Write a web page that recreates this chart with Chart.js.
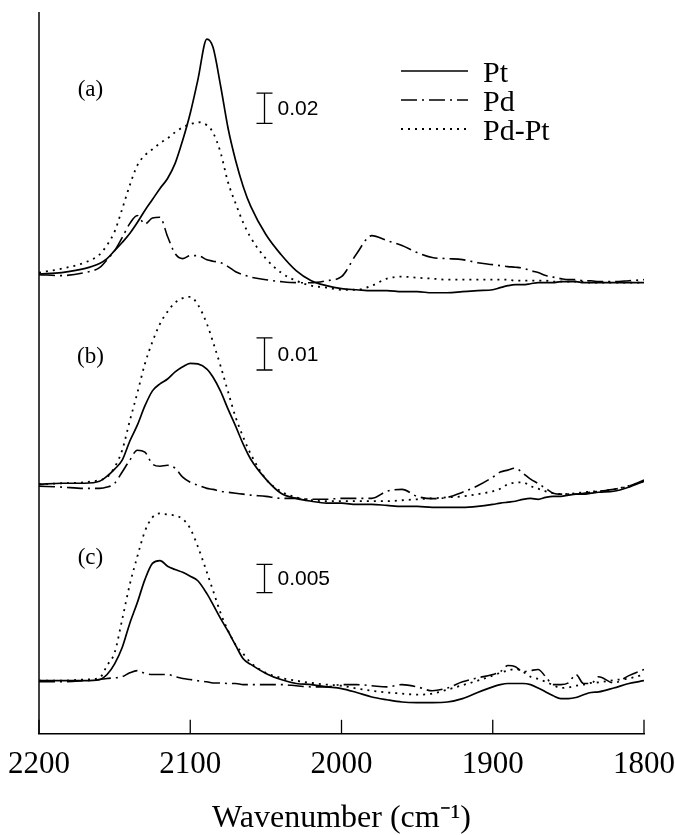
<!DOCTYPE html>
<html>
<head>
<meta charset="utf-8">
<title>CO adsorption spectra</title>
<script src="https://cdn.jsdelivr.net/npm/chart.js@4.4.1/dist/chart.umd.min.js"></script>
<style>
    html, body { margin: 0; padding: 0; background: #fff; }
    #wrap { width: 675px; height: 835px; }
</style>
</head>
<body>
<div id="wrap"><canvas id="chart"></canvas></div>
<script>
// wavenumber grid shared by all spectra (cm-1), finer around the carbonyl bands
const wavenumbers = [2200, 2185, 2170, 2160, 2155, 2150, 2145, 2140, 2135, 2130,
    2125, 2120, 2115, 2110, 2105, 2100, 2095, 2089, 2085, 2080,
    2075, 2070, 2065, 2060, 2050, 2040, 2030, 2020, 2010, 2000,
    1990, 1980, 1970, 1960, 1950, 1940, 1930, 1920, 1910, 1900,
    1895, 1890, 1885, 1880, 1875, 1870, 1865, 1860, 1855, 1850,
    1845, 1840, 1835, 1830, 1820, 1810, 1800];

// (a) absorbance
const ptA = [-0.0003, 0.0007, 0.0033, 0.0067, 0.010, 0.0153, 0.0207, 0.0267, 0.034, 0.042,
    0.0493, 0.0567, 0.0633, 0.0733, 0.0887, 0.1067, 0.1287, 0.156, 0.1507, 0.1253,
    0.0967, 0.0753, 0.058, 0.0447, 0.026, 0.0127, 0.002, -0.0047, -0.008, -0.01,
    -0.0107, -0.0113, -0.0113, -0.012, -0.012, -0.0127, -0.0127, -0.012, -0.0113, -0.0107,
    -0.0093, -0.008, -0.0073, -0.0073, -0.0067, -0.006, -0.006, -0.006, -0.0053, -0.0053,
    -0.0053, -0.006, -0.006, -0.006, -0.006, -0.006, -0.006];
const pdA = [-0.0007, -0.0013, 0.0007, 0.004, 0.0093, 0.0153, 0.024, 0.0333, 0.0387, 0.033,
    0.037, 0.0375, 0.0247, 0.0133, 0.01, 0.012, 0.012, 0.0093, 0.0083, 0.0073,
    0.0047, 0.0013, -0.0007, -0.0023, -0.004, -0.0053, -0.006, -0.006, -0.0047, -0.002,
    0.0133, 0.0253, 0.022, 0.0187, 0.014, 0.0107, 0.01, 0.0093, 0.0073, 0.006,
    0.0053, 0.0047, 0.0043, 0.0037, 0.002, 0.0007, -0.0013, -0.0023, -0.0033, -0.004,
    -0.004, -0.0047, -0.0047, -0.0053, -0.0053, -0.0047, -0.004];
const pdptA = [0.0007, 0.0033, 0.0073, 0.0127, 0.019, 0.028, 0.043, 0.0587, 0.072, 0.0787,
    0.0827, 0.0867, 0.09, 0.094, 0.0973, 0.0993, 0.1007, 0.0987, 0.094, 0.0807,
    0.0607, 0.0467, 0.034, 0.024, 0.01, 0.0007, -0.0047, -0.008, -0.0093, -0.0107,
    -0.0107, -0.008, -0.0033, -0.002, -0.0027, -0.0033, -0.004, -0.004, -0.004, -0.004,
    -0.004, -0.004, -0.0047, -0.0047, -0.0047, -0.0047, -0.0047, -0.0053, -0.0053, -0.0053,
    -0.0053, -0.0053, -0.006, -0.006, -0.006, -0.006, -0.006];

// (b) absorbance
const ptB = [0, 0.0003, 0.0003, 0.0009, 0.0025, 0.0047, 0.0075, 0.0134, 0.0184, 0.0244,
    0.0291, 0.0313, 0.0328, 0.035, 0.0366, 0.0377, 0.0375, 0.0359, 0.0334, 0.029,
    0.0234, 0.0181, 0.0125, 0.0078, 0.0016, -0.0028, -0.0044, -0.0053, -0.0059, -0.0059,
    -0.0063, -0.0063, -0.0066, -0.0069, -0.0069, -0.0072, -0.0072, -0.0072, -0.0069, -0.0063,
    -0.0059, -0.0056, -0.0053, -0.0047, -0.0044, -0.0047, -0.0041, -0.0038, -0.0038, -0.0034,
    -0.0031, -0.0031, -0.0028, -0.0025, -0.0022, -0.0009, 0.0009];
const pdB = [-0.0006, -0.0009, -0.0013, -0.0013, -0.0009, 0.0003, 0.0038, 0.0075, 0.0106, 0.01,
    0.0063, 0.0056, 0.0059, 0.005, 0.0022, 0.0006, -0.0003, -0.0013, -0.0016, -0.0022,
    -0.0025, -0.0028, -0.0031, -0.0034, -0.0038, -0.0044, -0.0044, -0.0047, -0.0047, -0.0044,
    -0.0044, -0.0044, -0.0022, -0.0016, -0.0038, -0.0045, -0.0041, -0.0025, -0.0005, 0.0022,
    0.0038, 0.0044, 0.005, 0.0034, 0.0016, 0.0002, -0.0013, -0.0028, -0.0031, -0.0031,
    -0.0031, -0.0028, -0.0025, -0.0022, -0.0016, -0.0006, 0.0013];
const pdptB = [0, 0.0003, 0.0006, 0.0013, 0.0022, 0.0053, 0.0106, 0.0197, 0.0284, 0.0375,
    0.0444, 0.05, 0.0538, 0.0566, 0.058, 0.0584, 0.056, 0.05, 0.0444, 0.0369,
    0.0288, 0.0209, 0.0147, 0.0094, 0.0016, -0.0022, -0.0041, -0.005, -0.0053, -0.0053,
    -0.0053, -0.0053, -0.0053, -0.005, -0.0047, -0.0044, -0.0041, -0.0038, -0.0031, -0.0022,
    -0.0014, 0, 0.0005, 0.0006, -0.0006, -0.0014, -0.0022, -0.0028, -0.0031, -0.003,
    -0.0028, -0.0025, -0.0023, -0.0022, -0.0016, -0.0005, 0.0009];

// (c) absorbance
const ptC = [0, 0, 0, 0.0002, 0.0011, 0.003, 0.0059, 0.0102, 0.0139, 0.018,
    0.0209, 0.0214, 0.0204, 0.0198, 0.0193, 0.0186, 0.0178, 0.0155, 0.0136, 0.0111,
    0.0088, 0.0063, 0.0039, 0.0029, 0.0013, 0.0002, -0.0005, -0.0007, -0.0011, -0.0014,
    -0.0021, -0.0029, -0.0034, -0.0038, -0.0039, -0.0039, -0.0038, -0.0032, -0.0021, -0.0011,
    -0.0007, -0.0005, -0.0005, -0.0005, -0.0007, -0.0013, -0.002, -0.0027, -0.0032, -0.0032,
    -0.003, -0.0025, -0.0021, -0.002, -0.0013, -0.0005, 0];
const pdC = [-0.0002, -0.0002, 0, 0.0002, 0.0004, 0.0005, 0.0007, 0.0014, 0.0018, 0.0013,
    0.0011, 0.0011, 0.0011, 0.0007, 0.0004, 0.0002, 0, -0.0002, -0.0004, -0.0004,
    -0.0005, -0.0005, -0.0007, -0.0007, -0.0007, -0.0007, -0.0009, -0.0011, -0.0011, -0.0007,
    -0.0007, -0.0009, -0.0011, -0.0007, -0.0011, -0.0018, -0.0013, -0.0002, 0.0005, 0.0011,
    0.0016, 0.0027, 0.0025, 0.0016, 0.0018, 0.002, 0.0007, -0.0007, -0.0007, -0.0004,
    0.0011, -0.0005, -0.0005, 0.0007, -0.0004, 0.0009, 0.002];
const pdptC = [0, 0, 0.0002, 0.0005, 0.0027, 0.005, 0.0109, 0.0171, 0.0221, 0.0266,
    0.0291, 0.0298, 0.0296, 0.0294, 0.0288, 0.0271, 0.0239, 0.0193, 0.0161, 0.0121,
    0.0089, 0.0064, 0.0048, 0.0032, 0.0014, 0.0005, 0, -0.0004, -0.0007, -0.0009,
    -0.0014, -0.0018, -0.0021, -0.0023, -0.0025, -0.0023, -0.0016, -0.0008, 0, 0.0009,
    0.0014, 0.0018, 0.0021, 0.0016, 0.0007, 0.0003, -0.0002, -0.0008, -0.0013, -0.0012,
    -0.0009, -0.0007, -0.0004, -0.0003, 0.0001, 0.0004, 0.0011];

// x axis tick labels
const xTicks = [2200, 2100, 2000, 1900, 1800];

// one hidden y axis per panel, each with its own absorbance range
const panelIds = ['ya', 'yb', 'yc'];
const panelNames = ['(a)', '(b)', '(c)'];
const panelMin = [-0.306, -0.0778, -0.00946];
const panelMax = [0.174, 0.1472, 0.1191];

// absorbance scale bars drawn in each panel
const barSizes = [0.02, 0.01, 0.005];
const barLabels = ['0.02', '0.01', '0.005'];
const barStart = [0.10, 0.0356, 0.0157];

// line style per sample
const seriesNames = ['Pt', 'Pd', 'Pd-Pt'];
const seriesDash = [[], [16, 5, 2, 5], [2, 5]];
const seriesWidth = [1.7, 1.6, 1.8];

const panelSeries = [
    [ptA, pdA, pdptA],
    [ptB, pdB, pdptB],
    [ptC, pdC, pdptC]
];

const datasets = [];
panelSeries.forEach((group, p) => {
    group.forEach((values, s) => {
        datasets.push({
            label: `${seriesNames[s]} ${panelNames[p]}`,
            data: values.map((v, k) => ({ x: wavenumbers[k], y: v })),
            yAxisID: panelIds[p],
            borderColor: '#000',
            borderWidth: seriesWidth[s],
            borderDash: seriesDash[s],
            pointRadius: 0,
            fill: false,
            cubicInterpolationMode: 'monotone'
        });
    });
});

const yScales = {};
panelIds.forEach((id, p) => {
    yScales[id] = { display: false, min: panelMin[p], max: panelMax[p] };
});

// left axis, inward ticks, panel letters, scale bars and the legend
const decorations = {
    id: 'decorations',
    afterDraw(chart) {
        const { ctx, chartArea, scales } = chart;
        const x = scales.x;

        ctx.save();
        ctx.strokeStyle = '#000';
        ctx.fillStyle = '#000';

        ctx.lineWidth = 1.5;
        ctx.beginPath();
        ctx.moveTo(chartArea.left, chartArea.top);
        ctx.lineTo(chartArea.left, chartArea.bottom);
        ctx.stroke();

        ctx.lineWidth = 1.3;
        x.ticks.forEach((t) => {
            const px = x.getPixelForValue(t.value);
            ctx.beginPath();
            ctx.moveTo(px, chartArea.bottom);
            ctx.lineTo(px, chartArea.bottom - 14);
            ctx.stroke();
        });

        panelIds.forEach((id, p) => {
            const y = scales[id];

            ctx.font = '23px "Liberation Serif"';
            ctx.textAlign = 'center';
            ctx.textBaseline = 'middle';
            ctx.fillText(panelNames[p], x.getPixelForValue(2166),
                y.getPixelForValue([0.122, 0.0397, 0.0218][p]));

            const bx = Math.round(x.getPixelForValue(2051)) + 0.5;
            const y0 = y.getPixelForValue(barStart[p]);
            const y1 = y.getPixelForValue(barStart[p] + barSizes[p]);
            ctx.lineWidth = 1.3;
            ctx.beginPath();
            ctx.moveTo(bx, y0);
            ctx.lineTo(bx, y1);
            ctx.moveTo(bx - 8, y0);
            ctx.lineTo(bx + 8, y0);
            ctx.moveTo(bx - 8, y1);
            ctx.lineTo(bx + 8, y1);
            ctx.stroke();

            ctx.font = '21px "Liberation Sans"';
            ctx.textAlign = 'left';
            ctx.fillText(barLabels[p], bx + 13, (y0 + y1) / 2 + 1);
        });

        seriesNames.forEach((name, s) => {
            const ly = 71 + s * 29;
            ctx.lineWidth = seriesWidth[s];
            ctx.setLineDash(seriesDash[s]);
            ctx.beginPath();
            ctx.moveTo(401, ly);
            ctx.lineTo(468, ly);
            ctx.stroke();
            ctx.setLineDash([]);
            ctx.font = '30px "Liberation Serif"';
            ctx.textAlign = 'left';
            ctx.textBaseline = 'alphabetic';
            ctx.fillText(name, 483, ly + 11);
        });

        ctx.restore();
    }
};

new Chart(document.getElementById('chart'), {
    type: 'line',
    data: { datasets },
    options: {
        responsive: true,
        maintainAspectRatio: false,
        animation: false,
        devicePixelRatio: 1,
        layout: { padding: { left: 39, right: 31, top: 12, bottom: 0 } },
        plugins: {
            legend: { display: false },
            tooltip: { enabled: false }
        },
        scales: {
            x: {
                type: 'linear',
                reverse: true,
                min: 1800,
                max: 2200,
                afterBuildTicks: (scale) => {
                    scale.ticks = xTicks.map((v) => ({ value: v }));
                },
                // the end labels may hang into the page margins
                afterFit: (scale) => {
                    scale.paddingLeft = 0;
                    scale.paddingRight = 0;
                },
                ticks: {
                    color: '#000',
                    maxRotation: 0,
                    padding: 12,
                    callback: (v) => String(v),
                    font: { family: 'Liberation Serif', size: 31 }
                },
                grid: { display: false, drawTicks: false },
                border: { display: true, color: '#000', width: 1.5 },
                title: {
                    display: true,
                    text: 'Wavenumber (cm\u207B\u00B9)',
                    color: '#000',
                    font: { family: 'Liberation Serif', size: 32, lineHeight: 1 },
                    padding: { top: 8, bottom: 0 }
                }
            },
            ...yScales
        }
    },
    plugins: [decorations]
});
</script>
</body>
</html>
